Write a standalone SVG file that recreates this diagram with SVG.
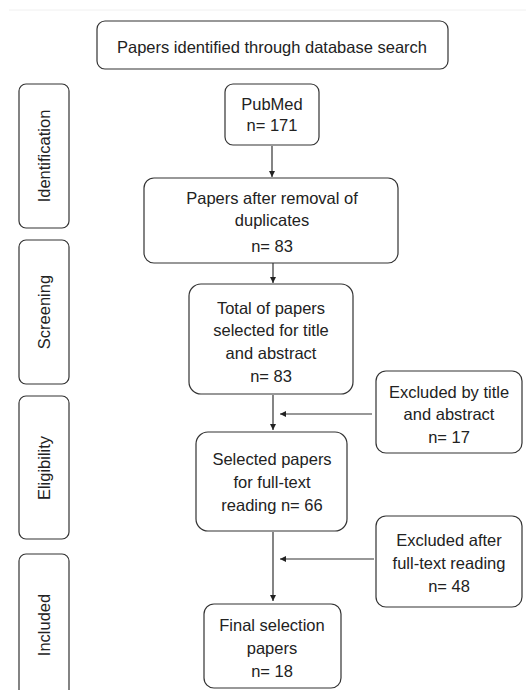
<svg xmlns="http://www.w3.org/2000/svg" width="526" height="690" viewBox="0 0 526 690">
<style>
.box{fill:#fff;stroke:#333;stroke-width:1.2}
.t{font-family:"Liberation Sans",Arial,sans-serif;font-size:16.5px;fill:#222;text-anchor:middle}
.c{stroke:#333;stroke-width:1.2;fill:none}
</style>
<defs>
<marker id="ah" viewBox="0 0 10 10" refX="10" refY="5" markerWidth="6" markerHeight="6" markerUnits="userSpaceOnUse" orient="auto"><path d="M0,0 L10,5 L0,10 z" fill="#222"/></marker>
</defs>
<rect width="526" height="690" fill="#fff"/>
<line x1="9" y1="10" x2="526" y2="10" stroke="#f0f0f0" stroke-width="1"/>
<g id="title"><rect class="box" x="97" y="21" width="351" height="48" rx="8"/><text class="t" x="272" y="53">Papers identified through database search</text></g>
<g id="phase-identification"><rect class="box" x="19" y="84" width="50" height="144" rx="7"/><text class="t" transform="translate(50,156) rotate(-90)">Identification</text></g>
<g id="phase-screening"><rect class="box" x="19" y="240" width="50" height="144" rx="7"/><text class="t" transform="translate(50,312) rotate(-90)">Screening</text></g>
<g id="phase-eligibility"><rect class="box" x="19" y="396" width="50" height="143" rx="7"/><text class="t" transform="translate(50,468) rotate(-90)">Eligibility</text></g>
<g id="phase-included"><rect class="box" x="19" y="554" width="50" height="150" rx="7"/><text class="t" transform="translate(50,625) rotate(-90)">Included</text></g>
<g id="pubmed"><rect class="box" x="225" y="84" width="94" height="61" rx="8"/><text class="t" x="272" y="110">PubMed</text><text class="t" x="272" y="131">n= 171</text></g>
<g id="duplicates"><rect class="box" x="144" y="178" width="254" height="85" rx="10"/><text class="t" x="272" y="204">Papers after removal of</text><text class="t" x="272" y="226">duplicates</text><text class="t" x="272" y="252">n= 83</text></g>
<g id="title-abstract"><rect class="box" x="189" y="284" width="164" height="110" rx="12"/><text class="t" x="271" y="314">Total of papers</text><text class="t" x="271" y="336">selected for title</text><text class="t" x="271" y="359">and abstract</text><text class="t" x="271" y="382">n= 83</text></g>
<g id="excluded-title"><rect class="box" x="376" y="371" width="146" height="82" rx="10"/><text class="t" x="449" y="398">Excluded by title</text><text class="t" x="449" y="420">and abstract</text><text class="t" x="449" y="443">n= 17</text></g>
<g id="full-text"><rect class="box" x="196" y="432" width="151" height="99" rx="12"/><text class="t" x="272" y="465">Selected papers</text><text class="t" x="272" y="488">for full-text</text><text class="t" x="272" y="511">reading n= 66</text></g>
<g id="excluded-full"><rect class="box" x="376" y="516" width="146" height="91" rx="10"/><text class="t" x="449" y="546">Excluded after</text><text class="t" x="449" y="569">full-text reading</text><text class="t" x="449" y="592">n= 48</text></g>
<g id="final"><rect class="box" x="204" y="604" width="137" height="84" rx="10"/><text class="t" x="272" y="631">Final selection</text><text class="t" x="272" y="654">papers</text><text class="t" x="272" y="677">n= 18</text></g>
<g id="connectors">
<line class="c" x1="272" y1="146" x2="272" y2="177" marker-end="url(#ah)"/>
<line class="c" x1="273" y1="263" x2="273" y2="283" marker-end="url(#ah)"/>
<line class="c" x1="273" y1="395" x2="273" y2="430" marker-end="url(#ah)"/>
<line class="c" x1="372" y1="414" x2="280" y2="414" marker-end="url(#ah)"/>
<line class="c" x1="273" y1="532" x2="273" y2="601" marker-end="url(#ah)"/>
<line class="c" x1="374" y1="559" x2="280" y2="559" marker-end="url(#ah)"/>
</g>
</svg>
